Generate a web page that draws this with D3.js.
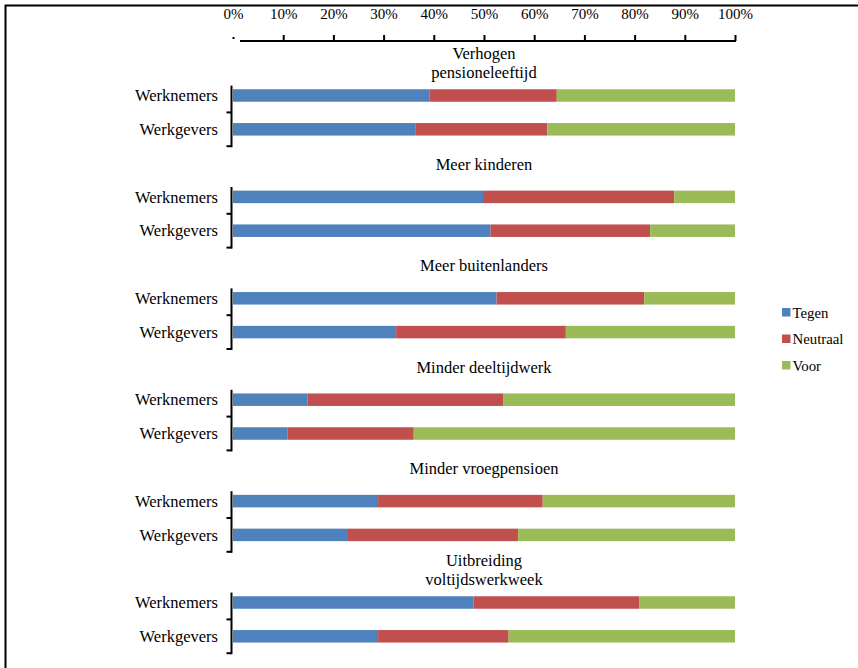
<!DOCTYPE html>
<html>
<head>
<meta charset="utf-8">
<script src="https://cdn.jsdelivr.net/npm/d3@7/dist/d3.min.js"></script>
<style>
  html, body { margin: 0; padding: 0; background: #fff; }
  svg { display: block; }
</style>
</head>
<body>
<svg id="chart" width="858" height="668"></svg>
<script>
// Survey topics (two-line titles split with "\n")
const topics = [
  "Verhogen\npensioneleeftijd",
  "Meer kinderen",
  "Meer buitenlanders",
  "Minder deeltijdwerk",
  "Minder vroegpensioen",
  "Uitbreiding\nvoltijdswerkweek"
];
const groups = ["Werknemers", "Werkgevers"];
const seriesNames = ["Tegen", "Neutraal", "Voor"];
const seriesColors = ["#4F81BD", "#C0504D", "#9BBB59"];

// Percentages per topic: [Werknemers, Werkgevers]
const tegen    = [[39.2, 36.3], [49.8, 51.3], [52.5, 32.5], [14.8, 10.9], [28.9, 22.9], [47.9, 28.9]];
const neutraal = [[25.3, 26.3], [38.1, 31.8], [29.4, 33.8], [39.0, 25.1], [32.8, 33.9], [33.0, 26.0]];
const voor     = [[35.5, 37.4], [12.1, 16.9], [18.1, 33.7], [46.2, 64.0], [38.3, 43.2], [19.1, 45.1]];

const xTicks = [0, 10, 20, 30, 40, 50, 60, 70, 80, 90, 100];

const FONT = "'Liberation Serif'";

const svg = d3.select("#chart");

// Outer frame (runs past the right and bottom edges)
svg.append("rect")
  .attr("x", 5.5).attr("y", 5.5).attr("width", 870).attr("height", 700)
  .attr("fill", "none").attr("stroke", "#000").attr("stroke-width", 2);

const x = d3.scaleLinear().domain([0, 100]).range([233, 735]);

// Each topic takes three slots: title, Werknemers, Werkgevers
const slots = [];
topics.forEach((t, i) => {
  slots.push(`t${i}`);
  groups.forEach((g, j) => slots.push(`r${i}-${j}`));
});
const y = d3.scaleBand().domain(slots).range([44.8, 653.2]).padding(0);
const bw = y.bandwidth();
const barH = 12.5;

// Top percentage axis
const axisY = 41;
const axisG = svg.append("g")
  .attr("transform", `translate(0,${axisY})`)
  .call(d3.axisTop(x).tickValues(xTicks).tickFormat(d => d + "%").tickSize(6).tickSizeOuter(0));
axisG.select(".domain").remove();
axisG.selectAll(".tick line").attr("stroke", "#000").attr("stroke-width", 2);
axisG.selectAll(".tick").filter(d => d === 0).select("line").attr("y2", -2).attr("y1", -4);
axisG.selectAll(".tick text")
  .attr("y", -22)
  .attr("fill", "#000")
  .style("font-family", FONT)
  .style("font-size", "15px");
axisG.append("line")
  .attr("x1", x(0) + 7).attr("x2", x(100) + 1)
  .attr("y1", 0).attr("y2", 0)
  .attr("stroke", "#000").attr("stroke-width", 2);

// Stacked rows
const rows = [];
topics.forEach((t, i) => {
  groups.forEach((g, j) => {
    rows.push({ topic: i, group: j, key: `r${i}-${j}`, values: [tegen[i][j], neutraal[i][j], voor[i][j]] });
  });
});

const stackData = rows.map(r => ({ key: r.key, Tegen: r.values[0], Neutraal: r.values[1], Voor: r.values[2] }));
const stacked = d3.stack().keys(seriesNames)(stackData);

const barsG = svg.append("g");
stacked.forEach((layer, si) => {
  barsG.selectAll(null)
    .data(layer)
    .enter().append("rect")
    .attr("x", d => x(d[0]))
    .attr("width", d => x(d[1]) - x(d[0]))
    .attr("y", d => y(d.data.key) + bw / 2 - barH / 2)
    .attr("height", barH)
    .attr("fill", seriesColors[si]);
});

// Row labels
svg.append("g").selectAll("text")
  .data(rows)
  .enter().append("text")
  .attr("x", 218)
  .attr("y", d => y(d.key) + bw / 2)
  .attr("dy", "0.35em")
  .attr("text-anchor", "end")
  .style("font-family", FONT)
  .style("font-size", "16.5px")
  .text(d => groups[d.group]);

// Topic titles centred above each pair of bars
const titleG = svg.append("g");
topics.forEach((t, i) => {
  const lines = t.split("\n");
  const cy = y(`t${i}`) + bw / 2 + 1;
  const lh = 18.5;
  lines.forEach((ln, k) => {
    titleG.append("text")
      .attr("x", x(50))
      .attr("y", cy + (k - (lines.length - 1) / 2) * lh)
      .attr("dy", "0.35em")
      .attr("text-anchor", "middle")
      .style("font-family", FONT)
      .style("font-size", "16.5px")
      .text(ln);
  });
});

// Category brackets on the left edge
const axisX = x(0) - 1.5;
const brG = svg.append("g").attr("stroke", "#000").attr("stroke-width", 2);
topics.forEach((t, i) => {
  const top = y(`r${i}-0`) + 7;
  const mid = y(`r${i}-1`);
  const bot = y(`r${i}-1`) + bw;
  brG.append("line").attr("x1", axisX).attr("x2", axisX).attr("y1", top).attr("y2", bot + 1);
  [mid, bot].forEach(v => {
    brG.append("line").attr("x1", axisX - 5).attr("x2", axisX).attr("y1", v).attr("y2", v);
  });
});

// Legend
const legend = svg.append("g").attr("transform", "translate(782,308)");
seriesNames.forEach((s, i) => {
  const g = legend.append("g").attr("transform", `translate(0,${i * 26.5})`);
  g.append("rect").attr("width", 8.5).attr("height", 8.5).attr("fill", seriesColors[i]);
  g.append("text").attr("x", 10.5).attr("y", 4.5).attr("dy", "0.35em")
    .style("font-family", FONT)
    .style("font-size", "14.8px")
    .text(s);
});
</script>
</body>
</html>
